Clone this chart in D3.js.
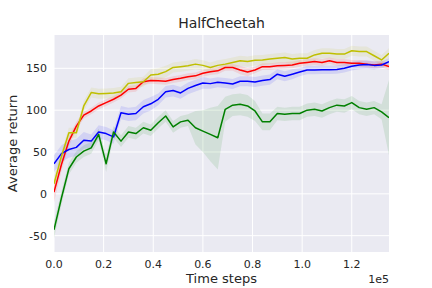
<!DOCTYPE html>
<html>
<head>
<meta charset="utf-8">
<script src="https://cdn.jsdelivr.net/npm/d3@7"></script>
<style>
  body { margin: 0; background: #fff; }
  text { font-family: "DejaVu Sans", sans-serif; fill: #262626; }
</style>
</head>
<body>
<div id="chart"></div>
<script>
// evaluation every 3000 steps, 0 .. 135000
var steps = d3.range(46).map(function(i) { return i * 3000; });

var red = [2, 35, 63, 81, 94, 99, 105, 109, 113, 118, 125, 126, 134, 135.5, 135, 134.5,
  136.5, 138, 140, 141, 144, 146, 147, 151, 151, 148, 145.5, 148, 152, 152, 153, 153.5,
  154, 156, 157, 158, 157, 159, 157, 157, 156, 156, 155, 154, 155, 152];
var redSpread = [12, 8, 6, 5, 4, 4, 4, 4, 4, 4, 4, 4, 4, 4, 4, 4, 4, 4, 4, 4, 4, 4, 4, 4,
  4, 5, 5, 4, 4, 4, 4, 4, 4, 4, 4, 4, 4, 4, 4, 4, 4, 4, 4, 4, 4, 4];

var blue = [36, 48, 53, 55.5, 64, 63, 74, 72, 68, 97, 95, 96, 104, 107.6, 113, 122, 123.4,
  120.6, 126, 129.4, 132.5, 131.7, 133.3, 132.5, 131.3, 134.5, 134.5, 133.6, 135.3, 136.5,
  143, 140.4, 143, 145.5, 148, 148, 148.3, 148.3, 148.5, 150, 152.5, 154, 154.5, 153.5, 154, 158];
var blueSpread = [10, 10, 10, 10, 10, 8, 8, 8, 8, 8, 8, 8, 8, 8, 7, 7, 7, 7, 7, 7, 7, 6, 6,
  6, 6, 6, 6, 6, 6, 6, 6, 6, 6, 5, 5, 5, 5, 5, 5, 5, 5, 5, 5, 5, 4, 4];

var green = [-43, -5, 30, 44, 51, 55, 71, 36, 74, 63, 74, 72, 79, 76, 85, 93, 80, 86, 88, 79,
  75, 71, 67, 101, 106, 107, 105, 99, 86, 86, 96, 95, 96, 96, 100, 101, 99, 103, 106, 105,
  109, 103, 101, 103, 98, 91];
var greenSpread = [10, 8, 7, 7, 7, 7, 7, 10, 7, 7, 7, 7, 7, 7, 7, 7, 7, 7, 7, 20, 25, 32, 38,
  15, 13, 13, 13, 12, 10, 10, 8, 8, 8, 8, 8, 8, 8, 8, 8, 8, 8, 8, 8, 8, 9, 45];

var yellow = [12, 45, 73, 73, 105, 121, 119.5, 120, 120.5, 122, 132, 133, 134, 142, 143, 146,
  151, 152, 153, 155, 153.5, 151, 153.5, 155, 157, 159, 158, 159.5, 160, 161, 162, 163, 161,
  162, 162, 166, 168, 168, 167, 167, 171, 170, 170, 165, 160, 168];
var yellowSpread = [8, 6, 6, 6, 6, 6, 6, 6, 6, 6, 6, 6, 6, 7, 7, 7, 6, 6, 6, 6, 6, 6, 6, 6,
  6, 6, 6, 6, 6, 6, 6, 6, 6, 6, 6, 6, 6, 6, 6, 6, 6, 6, 6, 6, 6, 6];

var xTicks = [0, 20000, 40000, 60000, 80000, 100000, 120000];
var yTicks = [-50, 0, 50, 100, 150];

var series = [
  {mean: red, spread: redSpread, color: "#ff0000"},
  {mean: blue, spread: blueSpread, color: "#0000ff"},
  {mean: green, spread: greenSpread, color: "#008000"},
  {mean: yellow, spread: yellowSpread, color: "#bfbf00"}
];

var width = 432, height = 288,
    plot = {left: 54, right: 389, top: 35, bottom: 252};

var x = d3.scaleLinear().domain([0, 135000]).range([plot.left, plot.right]);
var y = d3.scaleLinear().domain([-69.5, 189.8]).range([plot.bottom, plot.top]);

var svg = d3.select("#chart").append("svg")
  .attr("width", width)
  .attr("height", height);

svg.append("rect")
  .attr("x", plot.left)
  .attr("y", plot.top)
  .attr("width", plot.right - plot.left)
  .attr("height", plot.bottom - plot.top)
  .style("fill", "#eaeaf2");

// grid
svg.selectAll(".xgrid")
  .data(xTicks)
  .enter().append("line")
  .attr("x1", d => x(d)).attr("x2", d => x(d))
  .attr("y1", plot.top).attr("y2", plot.bottom)
  .style("stroke", "#fff").style("stroke-width", 1);

svg.selectAll(".ygrid")
  .data(yTicks)
  .enter().append("line")
  .attr("y1", d => y(d)).attr("y2", d => y(d))
  .attr("x1", plot.left).attr("x2", plot.right)
  .style("stroke", "#fff").style("stroke-width", 1);

var clip = svg.append("clipPath").attr("id", "clip")
  .append("rect")
  .attr("x", plot.left).attr("y", plot.top)
  .attr("width", plot.right - plot.left)
  .attr("height", plot.bottom - plot.top);

var g = svg.append("g").attr("clip-path", "url(#clip)");

var band = d3.area()
  .x(function(d, i) { return x(steps[i]); })
  .y0(d => y(d[0] - d[1]))
  .y1(d => y(d[0] + d[1]));

var line = d3.line()
  .x(function(d, i) { return x(steps[i]); })
  .y(d => y(d));

series.forEach(function(s) {
  g.append("path")
    .datum(s.mean.map((m, i) => [m, s.spread[i]]))
    .attr("d", band)
    .style("fill", s.color)
    .style("fill-opacity", 0.1)
    .style("stroke", "none");
});

series.forEach(function(s) {
  g.append("path")
    .datum(s.mean)
    .attr("d", line)
    .style("fill", "none")
    .style("stroke", s.color)
    .style("stroke-width", 1.5)
    .style("stroke-linejoin", "round");
});

// tick labels
svg.selectAll(".xlab")
  .data(xTicks)
  .enter().append("text")
  .attr("x", d => x(d))
  .attr("y", 268)
  .attr("text-anchor", "middle")
  .style("font-size", "11px")
  .text(d => (d / 1e5).toFixed(1));

svg.selectAll(".ylab")
  .data(yTicks)
  .enter().append("text")
  .attr("x", 47)
  .attr("y", d => y(d) + 4)
  .attr("text-anchor", "end")
  .style("font-size", "11px")
  .text(d => d);

svg.append("text")
  .attr("x", plot.right)
  .attr("y", 283)
  .attr("text-anchor", "end")
  .style("font-size", "11px")
  .text("1e5");

svg.append("text")
  .attr("x", (plot.left + plot.right) / 2)
  .attr("y", 283)
  .attr("text-anchor", "middle")
  .style("font-size", "13px")
  .text("Time steps");

svg.append("text")
  .attr("transform", "translate(17," + (plot.top + plot.bottom) / 2 + ") rotate(-90)")
  .attr("text-anchor", "middle")
  .style("font-size", "13px")
  .text("Average return");

svg.append("text")
  .attr("x", (plot.left + plot.right) / 2)
  .attr("y", 28)
  .attr("text-anchor", "middle")
  .style("font-size", "14px")
  .text("HalfCheetah");
</script>
</body>
</html>
